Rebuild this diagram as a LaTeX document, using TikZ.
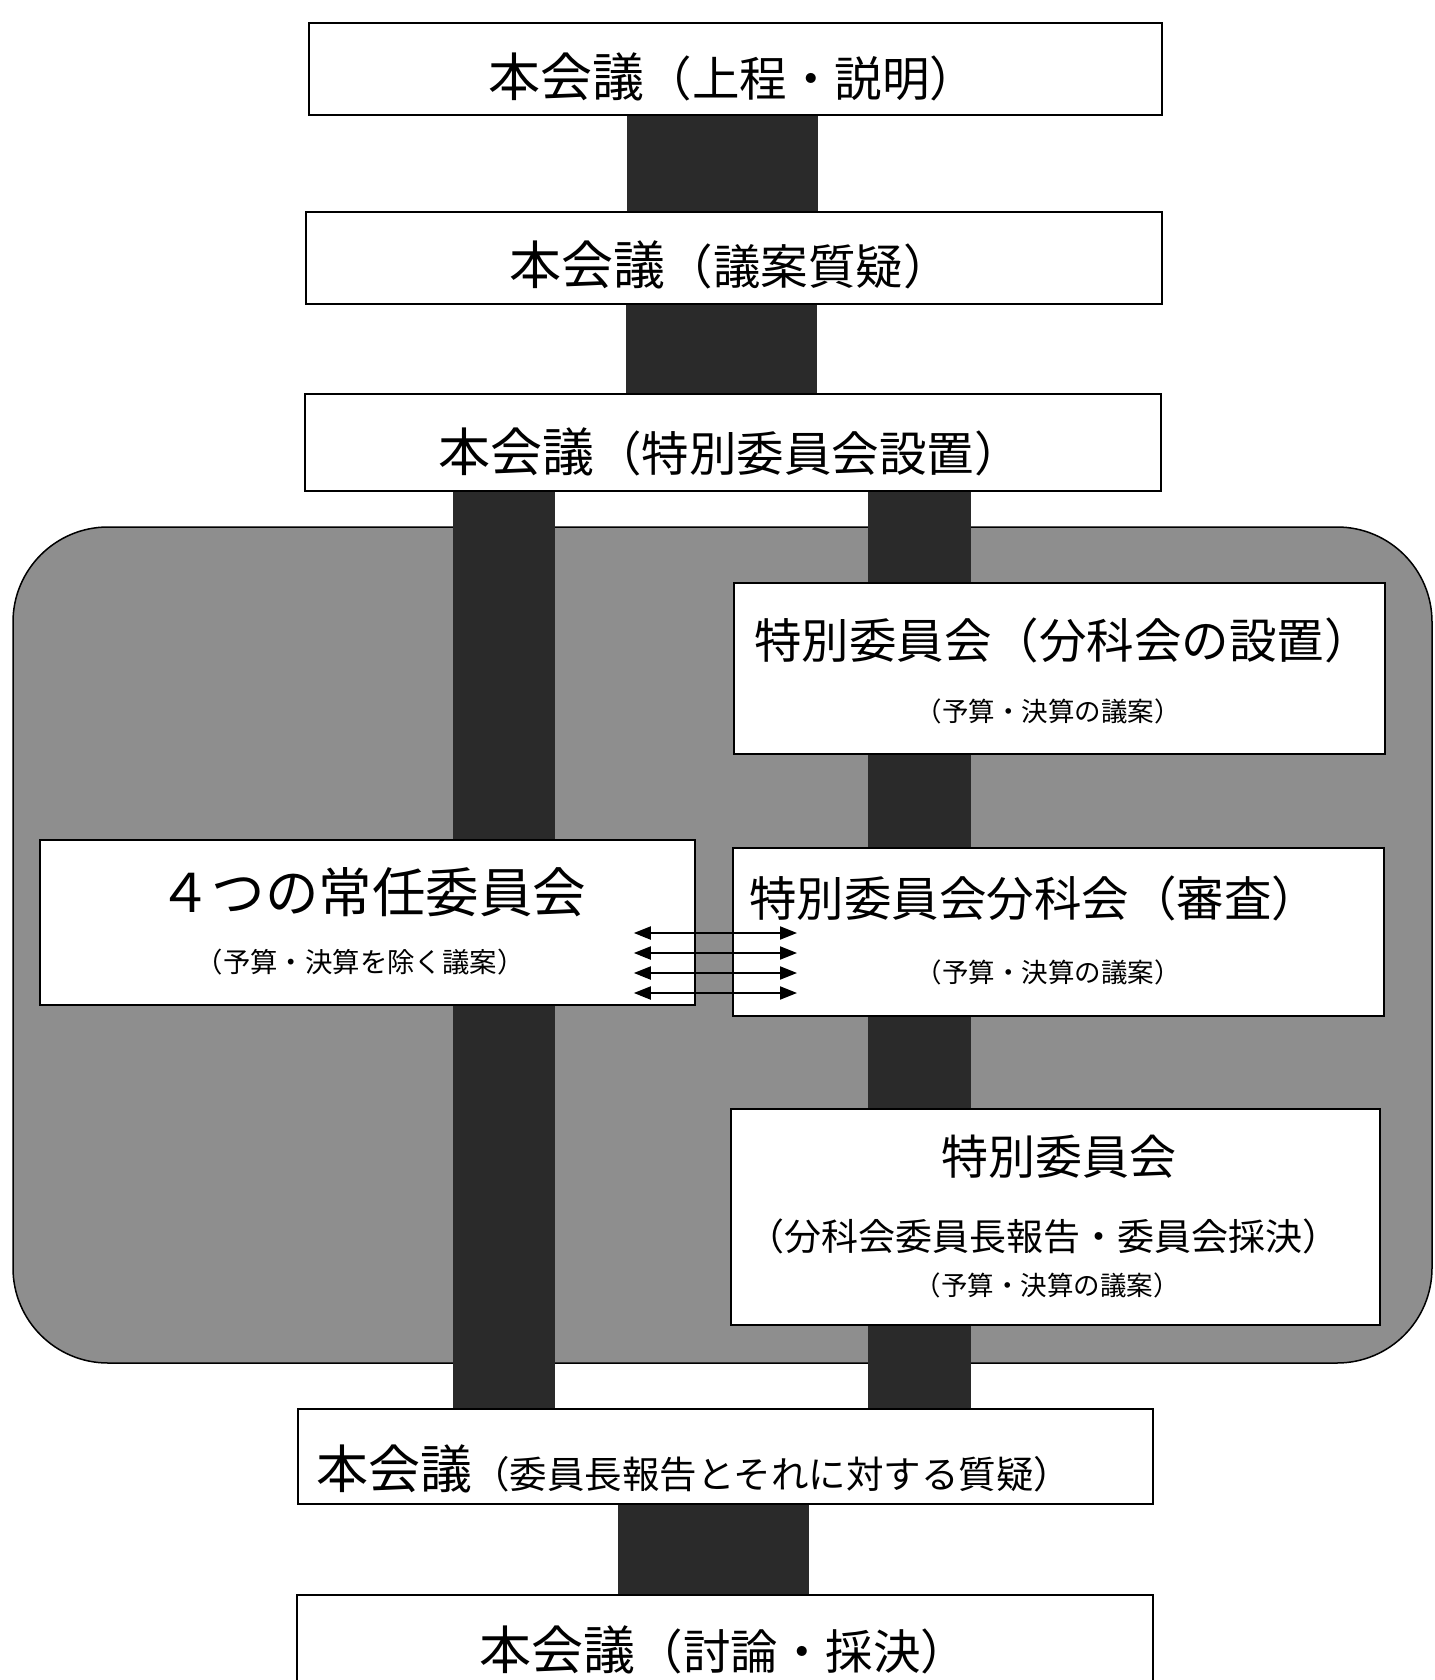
\documentclass[tikz,border=0pt]{standalone}
\usepackage{fontspec}
\newfontfamily\jp{Noto Sans CJK JP}
\usetikzlibrary{calc,arrows.meta}
\definecolor{barc}{HTML}{2A2A2A}
\definecolor{regc}{HTML}{8E8E8E}
\newcommand\fs[1]{\fontsize{#1}{#1}\selectfont}
\begin{document}
\begin{tikzpicture}[x=1pt,y=-1pt,
  box/.style={draw=black, line width=1.8pt, fill=white, inner sep=0pt, anchor=north west},
  pillar/.style={draw=barc, line width=#1},
  lbl/.style={inner sep=0pt, font=\jp},
  dbl/.style={draw=black, line width=2pt, {Triangle[length=17pt,width=13pt]}-{Triangle[length=17pt,width=13pt]}}]
\useasboundingbox (0,0) rectangle (1434,1680);
\clip (0,0) rectangle (1434,1680);
\fill[white] (0,0) rectangle (1434,1680);

% grey region
\draw[fill=regc, line width=1.5pt, rounded corners=95pt] (13,527) rectangle (1432,1363);

% boxes (top / bottom row)
\node[box, minimum width=853pt, minimum height=92pt] (b1) at (308,22) {};
\node[box, minimum width=856pt, minimum height=92pt] (b2) at (305,211) {};
\node[box, minimum width=856pt, minimum height=97pt] (b3) at (304,393) {};
\node[box, minimum width=855pt, minimum height=95pt] (bE) at (297,1408) {};
\node[box, minimum width=856pt, minimum height=130pt] (bF) at (296,1594) {};

% columns
\coordinate (x1) at (722.5,0);
\coordinate (x2) at (721.5,0);
\coordinate (xl) at (504,0);
\coordinate (xr) at (919,0);
\coordinate (x3) at (713.5,0);
\draw[pillar=191pt] (b1.south -| x1) -- (b2.north -| x1);
\draw[pillar=191pt] (b2.south -| x2) -- (b3.north -| x2);
\draw[pillar=102pt] (b3.south -| xl) -- (bE.north -| xl);
\draw[pillar=103pt] (b3.south -| xr) -- (bE.north -| xr);
\draw[pillar=191pt] (bE.south -| x3) -- (bF.north -| x3);

% inner boxes
\node[box, minimum width=651pt, minimum height=171pt] (bA) at (733,582) {};
\node[box, minimum width=655pt, minimum height=165pt] (bB) at (39,839) {};
\node[box, minimum width=651pt, minimum height=168pt] (bC) at (732,847) {};
\node[box, minimum width=649pt, minimum height=216pt] (bD) at (730,1108) {};

% redraw top/bottom boxes over the pillars' ends
\node[box, minimum width=853pt, minimum height=92pt] at (308,22) {};
\node[box, minimum width=856pt, minimum height=92pt] at (305,211) {};
\node[box, minimum width=856pt, minimum height=97pt] at (304,393) {};
\node[box, minimum width=855pt, minimum height=95pt] at (297,1408) {};
\node[box, minimum width=856pt, minimum height=130pt] at (296,1594) {};

% texts
\node[lbl] (t1) at (733,77) {\fs{52}本会議\fs{47.5}（上程・説明）};
\node[lbl] (t2) at (730,265) {\fs{52}本会議\fs{47.5}（議案質疑）};
\node[lbl] (t3) at (730,452) {\fs{52}本会議\fs{47.5}（特別委員会設置）};
\node[lbl] (tA1) at (1063,640) {\fs{47.5}特別委員会（分科会の設置）};
\node[lbl] (tA2) at (1048,711) {\fs{26.5}（予算・決算の議案）};
\node[lbl] (tB1) at (372,892) {\fs{53.5}４つの常任委員会};
\node[lbl] (tB2) at (360,962) {\fs{27.4}（予算・決算を除く議案）};
\node[lbl] (tC1) at (1034,898) {\fs{47.5}特別委員会分科会（審査）};
\node[lbl] (tC2) at (1048,972) {\fs{26.5}（予算・決算の議案）};
\node[lbl] (tD1) at (1059,1157) {\fs{47}特別委員会};
\node[lbl] (tD2) at (1043,1236) {\fs{37}（分科会委員長報告・委員会採決）};
\node[lbl] (tD3) at (1047,1285) {\fs{26.5}（予算・決算の議案）};
\node[lbl, anchor=base west] (tE) at (316,1488) {\fs{52}本会議\fs{37.5}（委員長報告とそれに対する質疑）};
\node[lbl] (tF) at (724,1650) {\fs{52}本会議\fs{47.5}（討論・採決）};

% double arrows
\path (bB.east) ++(-62,0) coordinate (aL);
\path (bC.west) ++(65,0) coordinate (aR);
\foreach \yy in {933,953,973,993}
  \draw[dbl] (aL |- 0,\yy) -- (aR |- 0,\yy);
\end{tikzpicture}
\end{document}
